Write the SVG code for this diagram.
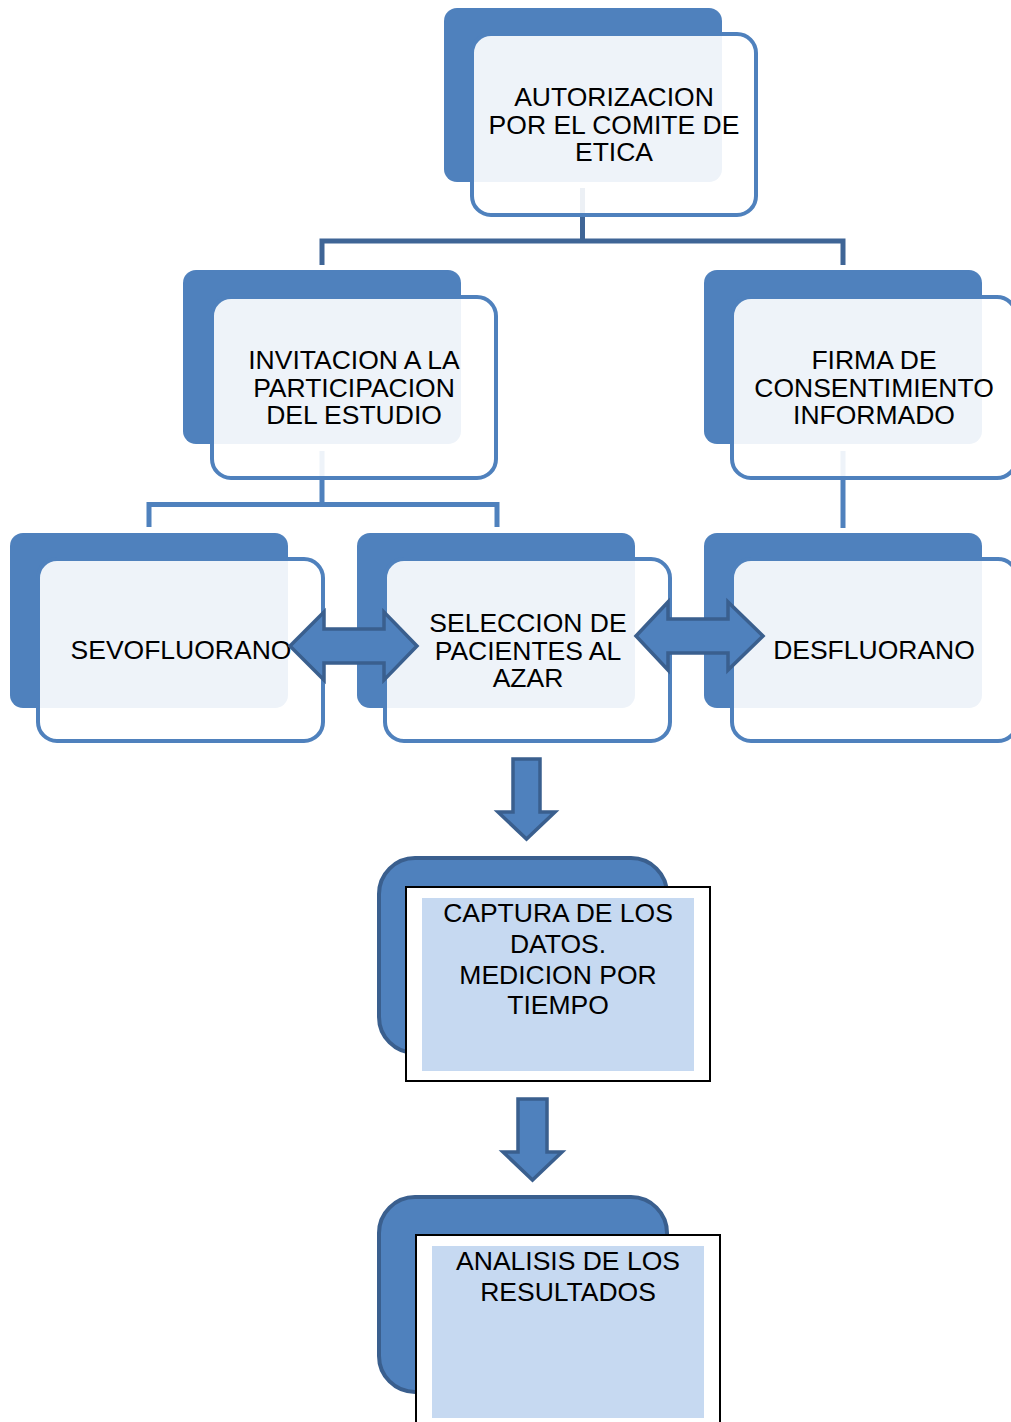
<svg xmlns="http://www.w3.org/2000/svg" width="1011" height="1422" viewBox="0 0 1011 1422">
<style>
.back{fill:#4f81bd}
.front{fill:#ffffff;fill-opacity:0.9;stroke:#4f81bd;stroke-width:4}
.t{font-family:"Liberation Sans",Arial,sans-serif;font-size:26.5px;fill:#000;text-anchor:middle}
.conn{fill:none;stroke:#4f81bd;stroke-width:5}
.conn1{fill:none;stroke:#3f6596;stroke-width:5}
.arr{fill:#4f81bd;stroke:#3a5f8e;stroke-width:3.5;stroke-linejoin:miter}
.bigback{fill:#4f81bd;stroke:#3a5f8e;stroke-width:4}
.box{fill:#ffffff;stroke:#000;stroke-width:2}
.inner{fill:#c6d9f1}
</style>
<rect width="1011" height="1422" fill="#ffffff"/>
<g id="connectors">
<path class="conn1" d="M582.5,188 V241 M322,265 V241 H843 V265"/>
<path class="conn" d="M322,451 V504.5 M149,527 V504.5 H497 V527"/>
<path class="conn" d="M843,451 V528"/>
</g>
<g id="n-autorizacion">
<rect class="back" x="444" y="8" width="278" height="174" rx="13"/>
<rect class="front" x="472" y="34" width="284" height="181" rx="19"/>
<text class="t" x="614" y="106">AUTORIZACION</text>
<text class="t" x="614" y="133.5">POR EL COMITE DE</text>
<text class="t" x="614" y="161">ETICA</text>
</g>
<g id="n-invitacion">
<rect class="back" x="183" y="270" width="278" height="174" rx="13"/>
<rect class="front" x="212" y="297" width="284" height="181" rx="19"/>
<text class="t" x="354" y="369">INVITACION A LA</text>
<text class="t" x="354" y="396.5">PARTICIPACION</text>
<text class="t" x="354" y="424">DEL ESTUDIO</text>
</g>
<g id="n-firma">
<rect class="back" x="704" y="270" width="278" height="174" rx="13"/>
<rect class="front" x="732" y="297" width="284" height="181" rx="19"/>
<text class="t" x="874" y="369">FIRMA DE</text>
<text class="t" x="874" y="396.5">CONSENTIMIENTO</text>
<text class="t" x="874" y="424">INFORMADO</text>
</g>
<g id="n-sevofluorano">
<rect class="back" x="10" y="533" width="278" height="175" rx="13"/>
<rect class="front" x="38" y="559" width="285" height="182" rx="19"/>
<text class="t" x="181" y="659">SEVOFLUORANO</text>
</g>
<g id="n-seleccion">
<rect class="back" x="357" y="533" width="278" height="175" rx="13"/>
<rect class="front" x="385" y="559" width="285" height="182" rx="19"/>
<text class="t" x="528" y="632">SELECCION DE</text>
<text class="t" x="528" y="659.5">PACIENTES AL</text>
<text class="t" x="528" y="687">AZAR</text>
</g>
<g id="n-desfluorano">
<rect class="back" x="704" y="533" width="278" height="175" rx="13"/>
<rect class="front" x="732" y="559" width="285" height="182" rx="19"/>
<text class="t" x="874" y="659">DESFLUORANO</text>
</g>
<g id="arrows">
<path class="arr" d="M290,646 L324,612 L324,629 L384,629 L384,612 L417,646 L384,680 L384,663 L324,663 L324,680 Z"/>
<path class="arr" d="M636,636 L668,602 L668,619 L728,619 L728,602 L763,636 L728,670 L728,653 L668,653 L668,670 Z"/>
<path class="arr" d="M513,759 L540,759 L540,812 L555,812 L526.5,839 L498,812 L513,812 Z"/>
<path class="arr" d="M518,1099 L547,1099 L547,1152 L562,1152 L532.5,1180 L503,1152 L518,1152 Z"/>
</g>
<g id="n-captura">
<rect class="bigback" x="379" y="858" width="288" height="195" rx="36"/>
<rect class="box" x="406" y="887" width="304" height="194"/>
<rect class="inner" x="422" y="898" width="272" height="173"/>
<text class="t" x="558" y="922">CAPTURA DE LOS</text>
<text class="t" x="558" y="953">DATOS.</text>
<text class="t" x="558" y="984">MEDICION POR</text>
<text class="t" x="558" y="1014">TIEMPO</text>
</g>
<g id="n-analisis">
<rect class="bigback" x="379" y="1197" width="288" height="195" rx="36"/>
<rect class="box" x="416" y="1235" width="304" height="200"/>
<rect class="inner" x="432" y="1246" width="272" height="172"/>
<text class="t" x="568" y="1270">ANALISIS DE LOS</text>
<text class="t" x="568" y="1301">RESULTADOS</text>
</g>
</svg>
